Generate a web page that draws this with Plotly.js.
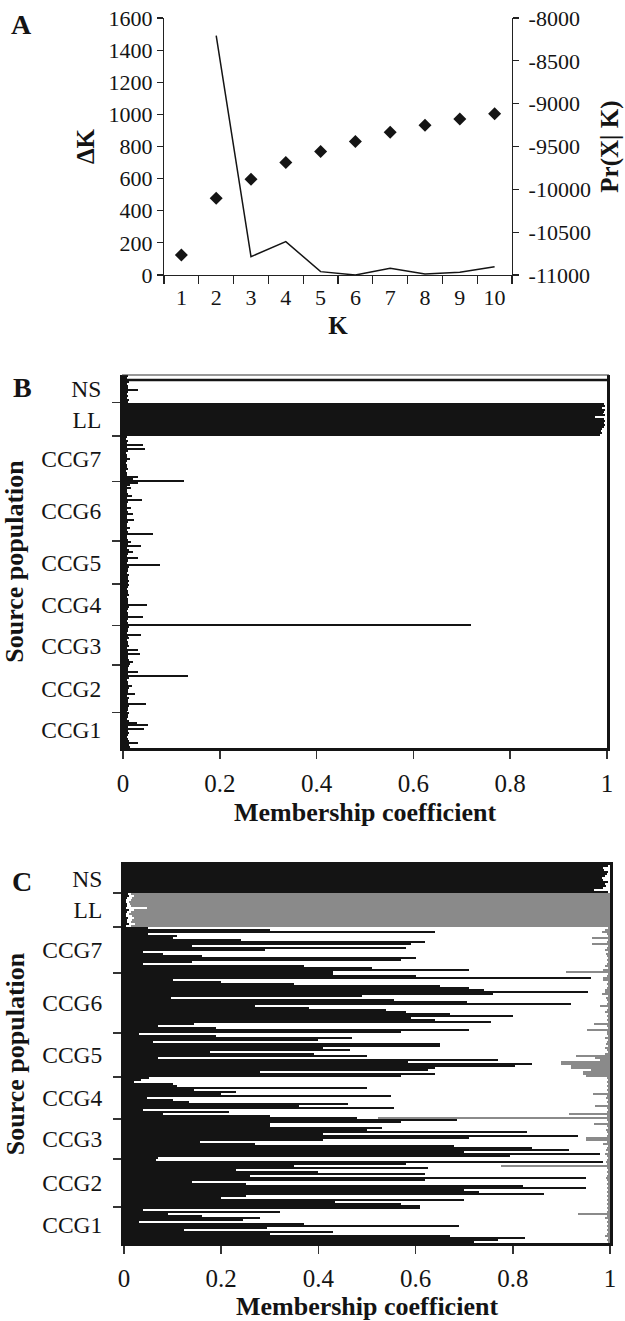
<!DOCTYPE html>
<html><head><meta charset="utf-8">
<script src="https://cdn.plot.ly/plotly-3.0.1.min.js"></script>
<style>html,body{margin:0;padding:0;background:#fff}</style>
</head><body><div id="chart" style="width:625px;height:1321px"></div>
<script>
// ---------- Panel A data ----------
const kLabels = ['1','2','3','4','5','6','7','8','9','10'];
const kLine = ['2','3','4','5','6','7','8','9','10'];
const deltaK = [1490, 114, 208, 21, 0, 42, 6, 17, 52];
const lnPrXK = [-10766, -10104, -9882, -9688, -9559, -9442, -9333, -9252, -9178, -9119];
const prTicks = [-11000, -10500, -10000, -9500, -9000, -8500, -8000];

// ---------- populations (top to bottom) ----------
const popNames = ['NS','LL','CCG7','CCG6','CCG5','CCG4','CCG3','CCG2','CCG1'];

// ---------- Panel B: membership coefficient (K=2) ----------
const bNS   = [0.01,0.008,0.01,0.012,0.009,0.01,0.011,0.03,0.01,0.008,0.01,0.009,0.012,0.01];
const bLL   = [0.993,0.995,0.99,0.996,0.994,0.992,0.995,0.975,0.993,0.996,0.994,0.995,0.993,0.99,0.988,0.99,0.985];
const bCCG7 = [0.008,0.007,0.01,0.009,0.042,0.008,0.045,0.01,0.007,0.009,0.008,0.014,0.008,0.007,0.009,0.008,0.01,0.007,0.009,0.008,0.032,0.02,0.126];
const bCCG6 = [0.032,0.015,0.008,0.016,0.009,0.008,0.01,0.018,0.009,0.039,0.01,0.008,0.009,0.016,0.008,0.01,0.02,0.009,0.008,0.023,0.01,0.009,0.008,0.014,0.009,0.01,0.061,0.009,0.008,0.01];
const bCCG5 = [0.016,0.01,0.037,0.009,0.012,0.02,0.01,0.009,0.03,0.011,0.01,0.009,0.076,0.012,0.01,0.011,0.009,0.012,0.01,0.011,0.013,0.01];
const bCCG4 = [0.012,0.01,0.009,0.011,0.01,0.012,0.009,0.01,0.011,0.01,0.05,0.012,0.01,0.009,0.011,0.01,0.042,0.01,0.009,0.011,0.72];
const bCCG3 = [0.012,0.01,0.011,0.009,0.038,0.01,0.012,0.009,0.011,0.01,0.012,0.009,0.032,0.01,0.035,0.011,0.01,0.012,0.021,0.015];
const bCCG2 = [0.012,0.01,0.011,0.032,0.01,0.134,0.012,0.009,0.011,0.01,0.018,0.012,0.01,0.011,0.025,0.009,0.012,0.01,0.011,0.048,0.012,0.01,0.011,0.009];
const bCCG1 = [0.012,0.01,0.011,0.009,0.012,0.028,0.052,0.01,0.044,0.011,0.012,0.01,0.009,0.011,0.012,0.032,0.013,0.015];

// ---------- Panel C: cluster 1 (black) and cluster 3 (grey), K=3 ----------
const cBlkNS   = [0.995,0.985,0.988,0.995,0.993,0.99,0.983,0.985,0.995,0.99,0.992,0.985,0.968,0.995];
const cGryNS   = [0,0,0,0,0,0,0,0,0,0,0,0,0,0];
const cBlkLL   = [0.008,0.01,0.006,0.005,0.004,0.006,0.007,0.005,0.01,0.006,0.004,0.005,0.008,0.007,0.006,0.01,0.005];
const cGryLL   = [0.985,0.98,0.983,0.985,0.99,0.988,0.985,0.952,0.98,0.985,0.99,0.984,0.98,0.983,0.986,0.978,0.985];
const cBlkCCG7 = [0.05,0.30,0.64,0.05,0.11,0.10,0.24,0.62,0.59,0.14,0.58,0.29,0.04,0.08,0.16,0.60,0.57,0.14,0.04,0.37,0.51,0.71,0.43];
const cGryCCG7 = [0.005,0.01,0.017,0.006,0.005,0.037,0.005,0.006,0.038,0.005,0.006,0.01,0.005,0.008,0.006,0.005,0.007,0.005,0.006,0.01,0.005,0.014,0.09];
const cBlkCCG6 = [0.43,0.60,0.96,0.10,0.20,0.35,0.65,0.71,0.74,0.955,0.76,0.49,0.096,0.555,0.705,0.92,0.27,0.38,0.54,0.58,0.67,0.80,0.59,0.64,0.755,0.145,0.07,0.19,0.71,0.57];
const cGryCCG6 = [0.005,0.006,0.015,0.015,0.005,0.006,0.005,0.006,0.01,0.01,0.017,0.005,0.008,0.006,0.005,0.006,0.02,0.005,0.006,0.01,0.005,0.006,0.005,0.006,0.005,0.033,0.006,0.005,0.047,0.006];
const cBlkCCG5 = [0.03,0.19,0.47,0.40,0.06,0.65,0.65,0.41,0.465,0.177,0.39,0.50,0.07,0.77,0.585,0.84,0.805,0.64,0.625,0.28,0.64,0.57];
const cGryCCG5 = [0.006,0.005,0.01,0.005,0.006,0.008,0.005,0.01,0.006,0.005,0.01,0.07,0.03,0.02,0.10,0.10,0.08,0.08,0.04,0.055,0.055,0.05];
const cBlkCCG4 = [0.052,0.035,0.02,0.10,0.11,0.50,0.145,0.23,0.20,0.55,0.048,0.10,0.134,0.46,0.36,0.555,0.04,0.217,0.08,0.30,0.48];
const cGryCCG4 = [0.006,0.005,0.006,0.005,0.006,0.005,0.006,0.005,0.036,0.006,0.008,0.005,0.006,0.005,0.03,0.006,0.005,0.006,0.085,0.006,0.477];
const cBlkCCG3 = [0.685,0.57,0.30,0.30,0.53,0.50,0.83,0.41,0.935,0.71,0.41,0.157,0.27,0.68,0.84,0.915,0.70,0.98,0.795,0.07];
const cGryCCG3 = [0.006,0.005,0.033,0.006,0.005,0.008,0.006,0.005,0.006,0.05,0.05,0.006,0.015,0.005,0.006,0.008,0.005,0.01,0.006,0.005];
const cBlkCCG2 = [0.066,0.985,0.58,0.35,0.625,0.23,0.40,0.62,0.26,0.95,0.62,0.14,0.25,0.82,0.95,0.70,0.73,0.865,0.25,0.20,0.70,0.435,0.57,0.61];
const cGryCCG2 = [0.006,0.008,0.006,0.225,0.006,0.005,0.006,0.005,0.006,0.008,0.006,0.005,0.006,0.005,0.006,0.005,0.006,0.005,0.006,0.005,0.006,0.005,0.006,0.005];
const cBlkCCG1 = [0.61,0.04,0.32,0.09,0.16,0.28,0.245,0.03,0.37,0.69,0.295,0.124,0.43,0.30,0.67,0.825,0.77,0.72];
const cGryCCG1 = [0.006,0.005,0.006,0.065,0.006,0.01,0.005,0.006,0.005,0.006,0.005,0.006,0.005,0.006,0.01,0.005,0.006,0.005];

// ---------- assemble ----------
const bPops = [bNS,bLL,bCCG7,bCCG6,bCCG5,bCCG4,bCCG3,bCCG2,bCCG1];
const cBlkPops = [cBlkNS,cBlkLL,cBlkCCG7,cBlkCCG6,cBlkCCG5,cBlkCCG4,cBlkCCG3,cBlkCCG2,cBlkCCG1];
const cGryPops = [cGryNS,cGryLL,cGryCCG7,cGryCCG6,cGryCCG5,cGryCCG4,cGryCCG3,cGryCCG2,cGryCCG1];

const bAll = [].concat(...bPops);
const cBlk = [].concat(...cBlkPops);
const cGry = [].concat(...cGryPops);
const cWht = cBlk.map((v,i)=>Math.max(0, 1 - v - cGry[i]));
const N = bAll.length;
const idx = bAll.map((_,i)=>i);

const mids = [], bounds = [];
let start = 0;
bPops.forEach((p,j)=>{
  mids.push(start + (p.length-1)/2);
  start += p.length;
  if (j < bPops.length-1) bounds.push(start - 0.5);
});

const W = 625, H = 1321;
const px = v => v / W;
const py = v => 1 - v / H;
const FONT = 'Liberation Serif, "Times New Roman", serif';
const INK = '#141414';

const traces = [
  {x: kLine, y: deltaK, xaxis:'x', yaxis:'y', type:'scatter', mode:'lines',
   line:{color:INK, width:1.5}, hoverinfo:'skip'},
  {x: kLabels, y: lnPrXK, xaxis:'x', yaxis:'y2', type:'scatter', mode:'markers',
   marker:{symbol:'diamond', size:10, color:INK}, hoverinfo:'skip'},
  {x: bAll, y: idx, xaxis:'x2', yaxis:'y3', type:'bar', orientation:'h',
   marker:{color:INK, line:{width:0}}, hoverinfo:'skip'},
  {x: cBlk, y: idx, xaxis:'x3', yaxis:'y4', type:'bar', orientation:'h',
   marker:{color:INK, line:{width:0}}, hoverinfo:'skip'},
  {x: cWht, y: idx, xaxis:'x3', yaxis:'y4', type:'bar', orientation:'h',
   marker:{color:'#ffffff', line:{width:0}}, hoverinfo:'skip'},
  {x: cGry, y: idx, xaxis:'x3', yaxis:'y4', type:'bar', orientation:'h',
   marker:{color:'#8a8a8a', line:{width:0}}, hoverinfo:'skip'}
];

const popAxis = (dom) => ({
  domain: dom, range:[N-0.5, -0.5], tickmode:'array', tickvals: mids, ticktext: popNames,
  ticks:'outside', ticklen:14, tickcolor:'rgba(0,0,0,0)',
  minor:{tickmode:'array', tickvals: bounds, ticks:'outside', ticklen:8, tickwidth:1.5, tickcolor:'#333', showgrid:false},
  showline:true, mirror:true, linewidth:3, linecolor:INK,
  showgrid:false, zeroline:false, tickfont:{size:23.5, color:INK},
  title:{text:'<b>Source population</b>', font:{size:26, color:INK}, standoff:11}
});
const memAxis = (dom, anchor) => ({
  domain: dom, anchor: anchor, range:[0,1], tickmode:'array', tickvals:[0,0.2,0.4,0.6,0.8,1],
  ticktext:['0','0.2','0.4','0.6','0.8','1'],
  ticks:'outside', ticklen:8, tickwidth:1.5, tickcolor:'#333', ticklabelstandoff:3,
  showline:true, mirror:true, linewidth:3, linecolor:INK,
  showgrid:false, zeroline:false, tickfont:{size:25, color:INK},
  title:{text:'<b>Membership coefficient</b>', font:{size:26, color:INK}, standoff:7}
});

const layout = {
  width: W, height: H, margin:{l:0,r:0,t:0,b:0},
  paper_bgcolor:'#fff', plot_bgcolor:'rgba(0,0,0,0)',
  font:{family:FONT, color:INK},
  showlegend:false, barmode:'stack', bargap:0,
  xaxis:{domain:[px(164),px(512)], anchor:'y', type:'category',
    categoryorder:'array', categoryarray:kLabels, range:[-0.5,9.5],
    tickson:'boundaries', ticks:'outside', ticklen:8, tickwidth:1.2, tickcolor:'#222',
    showline:true, linecolor:'#222', linewidth:1.2, showgrid:false, zeroline:false,
    tickfont:{size:22, color:INK}, ticklabelstandoff:2,
    title:{text:'<b>K</b>', font:{size:25, color:INK}, standoff:8}},
  yaxis:{domain:[py(275),py(18)], anchor:'x', range:[0,1600], tickmode:'array',
    tickvals:[0,200,400,600,800,1000,1200,1400,1600], ticks:'outside', ticklen:6, tickwidth:1.2,
    tickcolor:'#222', showline:true, linecolor:'#222', linewidth:1.2, showgrid:false, zeroline:false,
    tickfont:{size:22, color:INK},
    title:{text:'<b>ΔK</b>', font:{size:25, color:INK}, standoff:6}},
  yaxis2:{overlaying:'y', side:'right', anchor:'x', range:[-11000,-8000], tickmode:'array',
    tickvals:prTicks, ticktext:prTicks.map(String), ticks:'outside', ticklen:6, tickwidth:1.2,
    tickcolor:'#222', showline:true, linecolor:'#222', linewidth:1.2, showgrid:false, zeroline:false,
    tickfont:{size:22, color:INK}, ticklabelstandoff:5,
    title:{text:'<b>Pr(X| K)</b>', font:{size:25, color:INK}, standoff:10}},
  xaxis2: Object.assign(memAxis([px(123),px(607)], 'y3'), {mirror:false}),
  yaxis3: Object.assign(popAxis([py(748),py(375)]), {anchor:'x2'}),
  xaxis3: memAxis([px(124),px(610)], 'y4'),
  yaxis4: Object.assign(popAxis([py(1243),py(865)]), {anchor:'x3'}),
  shapes:[
    {type:'line', xref:'paper', yref:'paper', x0:px(122), x1:px(609), y0:py(375), y1:py(375),
     line:{color:'#333', width:1.2}},
    {type:'line', xref:'paper', yref:'paper', x0:px(122), x1:px(609), y0:py(380), y1:py(380),
     line:{color:INK, width:2.5}}
  ],
  annotations:[
    {text:'<b>A</b>', xref:'paper', yref:'paper', x:px(21), y:py(25), xanchor:'center', yanchor:'middle', showarrow:false, font:{size:28, color:INK}},
    {text:'<b>B</b>', xref:'paper', yref:'paper', x:px(22), y:py(388), xanchor:'center', yanchor:'middle', showarrow:false, font:{size:28, color:INK}},
    {text:'<b>C</b>', xref:'paper', yref:'paper', x:px(22), y:py(881), xanchor:'center', yanchor:'middle', showarrow:false, font:{size:28, color:INK}}
  ]
};

Plotly.newPlot('chart', traces, layout, {staticPlot:true, displayModeBar:false});
</script></body></html>
